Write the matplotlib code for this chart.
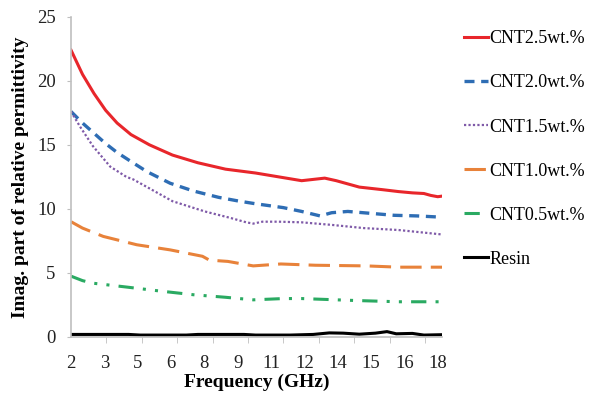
# Imaginary permittivity vs frequency for CNT/resin composites

import numpy as np
import matplotlib.pyplot as plt

plt.rcParams['font.family'] = ['Liberation Serif', 'DejaVu Serif']

# readings (frequency in GHz, eps'')
f_25 = [2.0, 2.5, 3.0, 3.5, 4.0, 4.6, 5.4, 6.4, 7.5, 8.7, 10.0, 11.0, 12.0, 12.5, 13.0, 13.5,
        14.5, 15.5, 16.2, 16.8, 17.3, 17.6, 17.9, 18.1]
e_25 = [22.4, 20.5, 19.0, 17.7, 16.7, 15.8, 15.0, 14.2, 13.6, 13.1, 12.8, 12.5, 12.2, 12.3, 12.4, 12.2,
        11.7, 11.5, 11.35, 11.25, 11.2, 11.05, 10.95, 11.0]

f_20 = [2.0, 2.5, 3.0, 3.5, 4.0, 4.6, 5.3, 6.3, 7.3, 8.4, 9.3, 10.0, 11.2, 12.0, 12.8, 13.3,
        14.0, 15.0, 16.0, 17.0, 18.1]
e_20 = [17.6, 16.7, 15.9, 15.1, 14.4, 13.7, 12.9, 12.0, 11.4, 10.9, 10.6, 10.4, 10.1, 9.8, 9.45, 9.7,
        9.8, 9.65, 9.5, 9.45, 9.35]

f_15 = [2.0, 2.4, 2.95, 3.7, 4.4, 4.7, 5.5, 6.4, 7.8, 8.9, 9.6, 9.9, 10.3, 11.0, 12.0, 13.3,
        14.7, 16.2, 18.1]
e_15 = [17.6, 16.4, 14.9, 13.3, 12.5, 12.3, 11.5, 10.6, 9.8, 9.3, 8.95, 8.85, 9.0, 9.0, 8.95, 8.75,
        8.5, 8.35, 8.0]

f_10 = [2.0, 2.5, 3.4, 4.85, 6.3, 7.7, 8.0, 8.8, 9.9, 11.1, 12.6, 14.8, 16.2, 18.1]
e_10 = [9.0, 8.5, 7.85, 7.2, 6.8, 6.3, 6.0, 5.9, 5.55, 5.7, 5.6, 5.55, 5.45, 5.45]

f_05 = [2.0, 2.5, 2.95, 4.4, 5.8, 7.3, 8.7, 9.9, 11.2, 12.0, 14.3, 16.2, 18.1]
e_05 = [4.75, 4.4, 4.2, 3.9, 3.6, 3.3, 3.1, 2.9, 3.0, 3.0, 2.85, 2.75, 2.75]

f_resin = [2.0, 4.5, 5.0, 7.0, 7.5, 9.5, 10.0, 11.5, 12.5, 13.2, 13.8, 14.5, 15.2, 15.7, 16.1,
           16.8, 17.3, 18.1]
e_resin = [0.2, 0.2, 0.15, 0.15, 0.2, 0.2, 0.15, 0.15, 0.2, 0.32, 0.3, 0.22, 0.3, 0.42, 0.25,
           0.28, 0.15, 0.18]

tick_labels = ['2', '3', '5', '6', '8', '9', '11', '12', '14', '15', '16', '18']

fig = plt.figure(figsize=(5.99, 3.93), dpi=100)
ax = fig.add_axes([0.1185, 0.1425, 0.62, 0.815])

ax.plot(f_25, e_25, color='#E8262B', lw=2.2, label='CNT2.5wt.%')
ax.plot(f_20, e_20, color='#2E6DB4', lw=2.4, ls=(0, (3, 2)), label='CNT2.0wt.%')
ax.plot(f_15, e_15, color='#7F5AA8', lw=1.6, ls=(0, (1, 1)), label='CNT1.5wt.%')
ax.plot(f_10, e_10, color='#E8823A', lw=2.2, ls=(0, (7, 3)), label='CNT1.0wt.%')
ax.plot(f_05, e_05, color='#2AAA62', lw=2.2, ls=(0, (5, 3, 1, 3, 1, 3)), label='CNT0.5wt.%')
ax.plot(f_resin, e_resin, color='black', lw=2.2, label='Resin')

ax.set_xlim(2, 18.1)
ax.set_ylim(0, 25)
ax.set_yticks(np.arange(0, 26, 5))

# labels and tick marks are not aligned in the original
ax.set_xticks(np.linspace(2, 17.9, 12))
ax.set_xticklabels(tick_labels)
ax.set_xticks([2 + 1.535 * k for k in range(11)], minor=True)
ax.tick_params(axis='x', which='major', length=0, pad=13, labelsize=13.5, colors='#222222')
ax.tick_params(axis='x', which='minor', length=4, color='#BFBFBF')
ax.tick_params(axis='y', length=3, color='#BFBFBF', labelsize=13.5, labelcolor='#222222', pad=8)

for s in ['top', 'right']:
    ax.spines[s].set_visible(False)
for s in ['left', 'bottom']:
    ax.spines[s].set_color('#BFBFBF')
    ax.spines[s].set_linewidth(1.2)

ax.set_xlabel('Frequency (GHz)', fontsize=14, fontweight='bold', labelpad=1)
ax.set_ylabel('Imag. part of relative permittivity', fontsize=14, fontweight='bold', labelpad=6)

ax.legend(loc='upper left', bbox_to_anchor=(1.015, 1.008), frameon=False, fontsize=13,
          handlelength=1.3, handletextpad=0.1, labelspacing=1.5, borderaxespad=0.5)

fig.savefig('out.png', dpi=100)
